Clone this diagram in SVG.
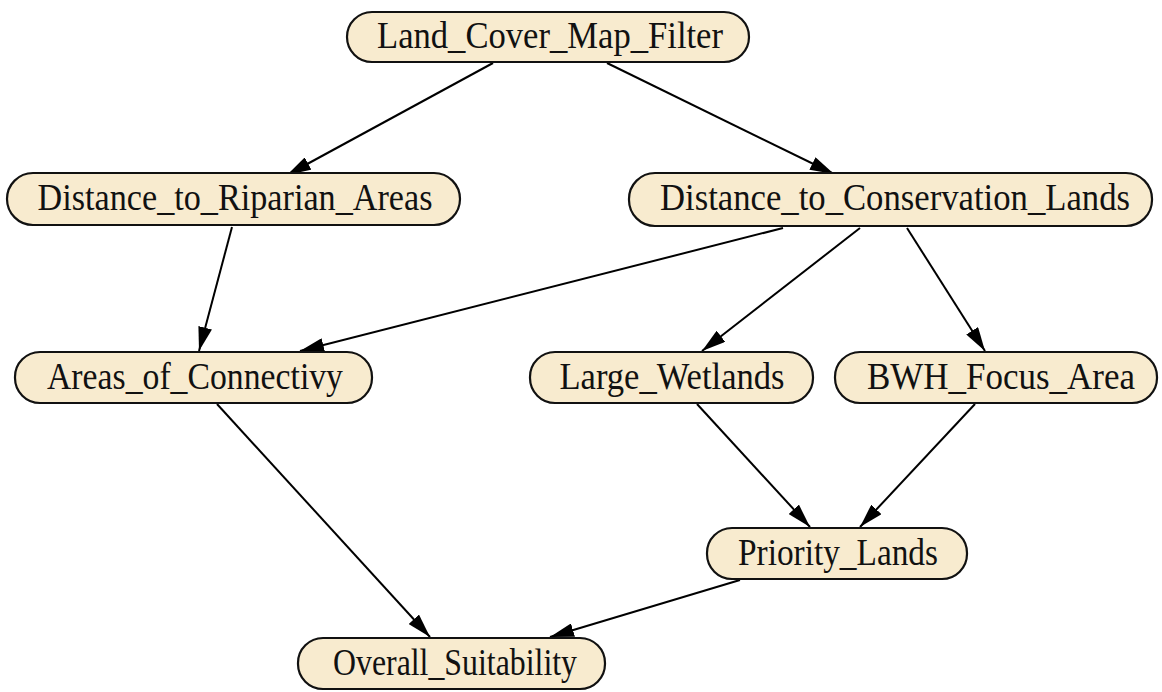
<svg xmlns="http://www.w3.org/2000/svg" width="1162" height="692" viewBox="0 0 1162 692">
<defs>
<marker id="arr" markerWidth="24" markerHeight="14" refX="24" refY="7" orient="auto" markerUnits="userSpaceOnUse">
<path d="M0,0 L24,7 L0,14 z" fill="#000"/>
</marker>
<style>
.node rect{fill:#f8ebcf;stroke:#111;stroke-width:2.2}
.node text{font-family:"Liberation Serif","Times New Roman",serif;font-size:37px;fill:#111;text-anchor:middle}
.edges line{stroke:#000;stroke-width:2;marker-end:url(#arr)}
</style>
</defs>
<rect width="1162" height="692" fill="#fff"/>
<g class="edges" id="edges">
<line x1="493" y1="63" x2="287" y2="175"/>
<line x1="607" y1="63" x2="834" y2="174"/>
<line x1="232" y1="227" x2="199" y2="351"/>
<line x1="783" y1="228" x2="300" y2="351"/>
<line x1="860" y1="228" x2="702" y2="351"/>
<line x1="907" y1="228" x2="985" y2="351"/>
<line x1="697" y1="404" x2="810" y2="527"/>
<line x1="975" y1="404" x2="860" y2="527"/>
<line x1="217" y1="404" x2="430" y2="637"/>
<line x1="740" y1="580" x2="550" y2="637"/>
</g>
<g class="node" id="land_cover_map_filter"><rect x="347" y="12" width="402" height="50" rx="25"/><text x="550" y="48" textLength="346" lengthAdjust="spacingAndGlyphs">Land_Cover_Map_Filter</text></g>
<g class="node" id="distance_to_riparian_areas"><rect x="7" y="173" width="453" height="52" rx="26"/><text x="235" y="210" textLength="395" lengthAdjust="spacingAndGlyphs">Distance_to_Riparian_Areas</text></g>
<g class="node" id="distance_to_conservation_lands"><rect x="629" y="173" width="523" height="53" rx="26"/><text x="895" y="210" textLength="470" lengthAdjust="spacingAndGlyphs">Distance_to_Conservation_Lands</text></g>
<g class="node" id="areas_of_connectivy"><rect x="15" y="352" width="357" height="51" rx="25"/><text x="195" y="389" textLength="296" lengthAdjust="spacingAndGlyphs">Areas_of_Connectivy</text></g>
<g class="node" id="large_wetlands"><rect x="530" y="352" width="283" height="51" rx="25"/><text x="672" y="389" textLength="225" lengthAdjust="spacingAndGlyphs">Large_Wetlands</text></g>
<g class="node" id="bwh_focus_area"><rect x="835" y="352" width="322" height="51" rx="25"/><text x="1001" y="389" textLength="268" lengthAdjust="spacingAndGlyphs">BWH_Focus_Area</text></g>
<g class="node" id="priority_lands"><rect x="707" y="528" width="260" height="51" rx="25"/><text x="838" y="565" textLength="200" lengthAdjust="spacingAndGlyphs">Priority_Lands</text></g>
<g class="node" id="overall_suitability"><rect x="298" y="638" width="307" height="51" rx="25"/><text x="455" y="675" textLength="244" lengthAdjust="spacingAndGlyphs">Overall_Suitability</text></g>
</svg>
